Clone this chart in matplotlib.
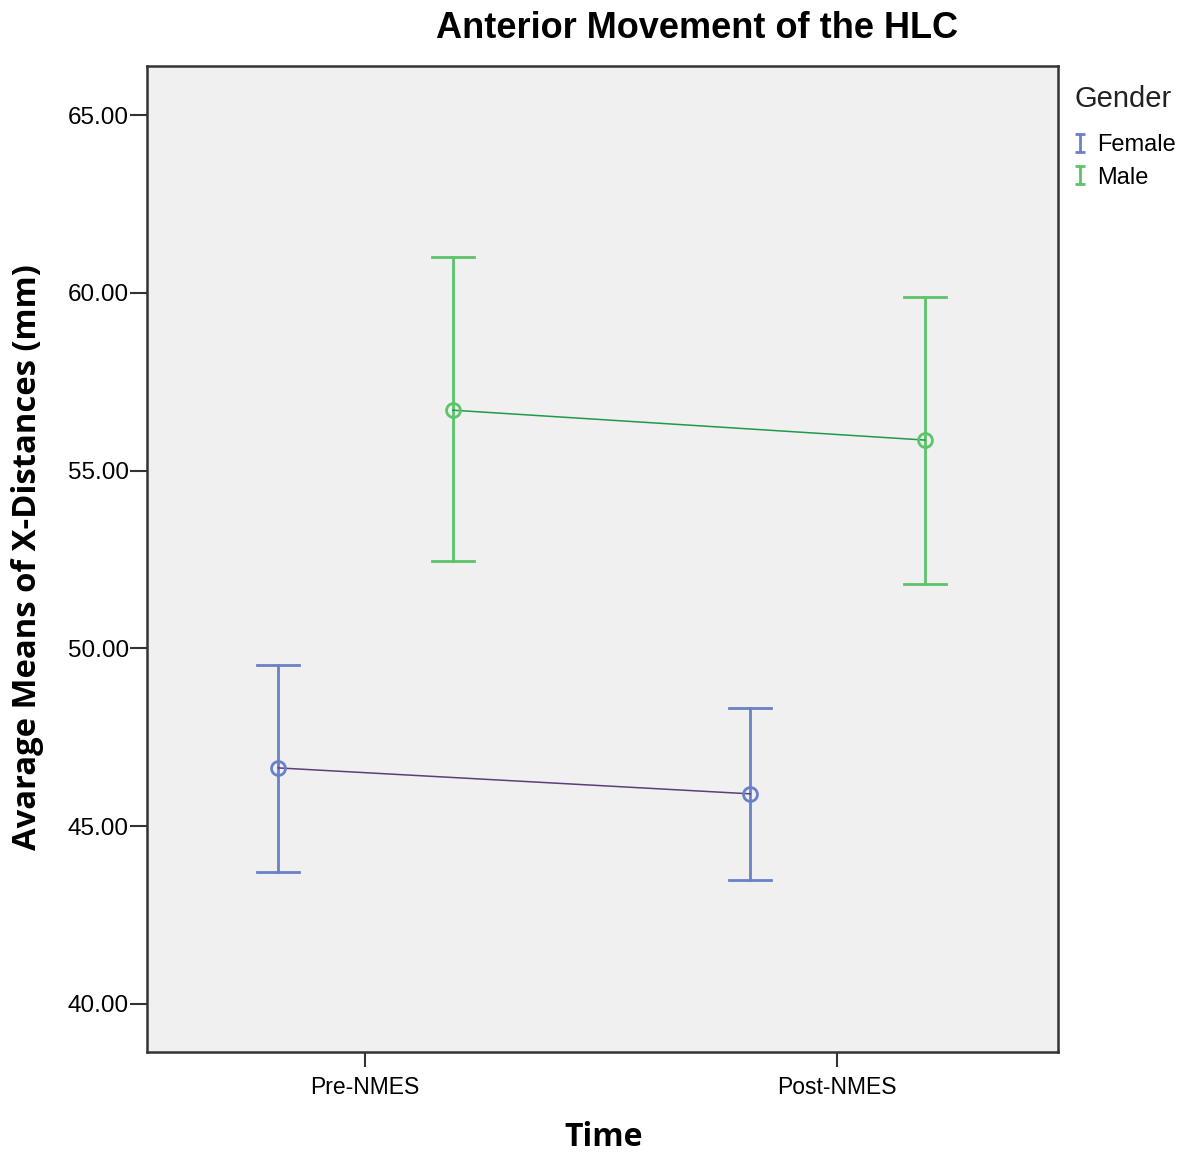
import matplotlib
matplotlib.use("Agg")
import matplotlib.pyplot as plt
from matplotlib.lines import Line2D
from matplotlib.path import Path

categories = ["Pre-NMES", "Post-NMES"]
groups = ["Female", "Male"]
female_mean = [46.64, 45.91]
female_upper = [49.53, 48.32]
female_lower = [43.71, 43.49]
male_mean = [56.70, 55.86]
male_upper = [61.01, 59.88]
male_lower = [52.46, 51.81]
yticks = [40, 45, 50, 55, 60, 65]

plt.rcParams['font.family'] = ['Liberation Sans', 'DejaVu Sans']

W, H = 1184, 1153
fig = plt.figure(figsize=(W/100, H/100), dpi=100)
ax = fig.add_axes([147/W, 1-1052/H, (1058-147)/W, (1052-66)/H])
ax.set_facecolor("#f0f0f0")

bar_cols = ["#6a80c8", "#5cc46a"]
line_cols = ["#5a3f78", "#1e9a48"]
offsets = [-0.184, 0.186]
series = [(female_mean, female_upper, female_lower), (male_mean, male_upper, male_lower)]

for i, (m, u, l) in enumerate(series):
    xs = [j + offsets[i] for j in range(len(categories))]
    ax.plot(xs, m, color=line_cols[i], lw=1.1, zorder=3)
    for x, mm, uu, ll in zip(xs, m, u, l):
        ax.plot([x, x], [ll, uu], color=bar_cols[i], lw=2.0, zorder=2)
        ax.plot([x-0.045, x+0.045], [uu, uu], color=bar_cols[i], lw=2.0, zorder=2)
        ax.plot([x-0.045, x+0.045], [ll, ll], color=bar_cols[i], lw=2.0, zorder=2)
    ax.plot(xs, m, 'o', ms=10, mfc='none', mec=bar_cols[i], mew=2.0, zorder=4)

ax.set_xlim(-0.462, 1.468)
ax.set_ylim(38.65, 66.38)
ax.set_xticks(range(len(categories)))
ax.set_xticklabels(categories, fontsize=16.5)
ax.set_yticks(yticks)
ax.set_yticklabels([f"{v:.2f}" for v in yticks], fontsize=17.5)
ax.tick_params(axis='y', length=12, width=1.5, direction='out', color='#333333', pad=1)
ax.tick_params(axis='x', length=11, width=1.5, direction='out', color='#333333', pad=6)
for s in ax.spines.values():
    s.set_linewidth(1.8)
    s.set_color('#333333')

lab_font = dict(family=['Open Sans', 'DejaVu Sans'], fontweight='bold')
fig.text(604/W, 1-1138/H, "Time", ha='center', va='center', fontsize=23, **lab_font)
fig.text(28/W, 1-557/H, "Avarage Means of X-Distances (mm)", ha='center', va='center',
         rotation=90, fontsize=23.6, **lab_font)
fig.text(697/W, 1-29/H, "Anterior Movement of the HLC", ha='center', va='center',
         fontsize=26, fontweight='bold')

fig.text(1075/W, 1-99/H, "Gender", ha='left', va='center', fontsize=21, color='#222222')

Ipath = Path([(-0.5, 1), (0.5, 1), (0, 1), (0, -1), (-0.5, -1), (0.5, -1)],
             [Path.MOVETO, Path.LINETO, Path.MOVETO, Path.LINETO, Path.MOVETO, Path.LINETO])
handles = [Line2D([0], [0], color=bar_cols[i], marker=Ipath, ms=13, mew=2,
                  fillstyle='none', lw=0) for i in range(2)]
leg = fig.legend(handles, groups, loc='upper left',
                 bbox_to_anchor=(1074/W, 1-134/H), frameon=False, fontsize=17,
                 handlelength=0.5, handletextpad=0.5,
                 labelspacing=0.45, borderaxespad=0, borderpad=0)

fig.savefig("out.png", dpi=100)
